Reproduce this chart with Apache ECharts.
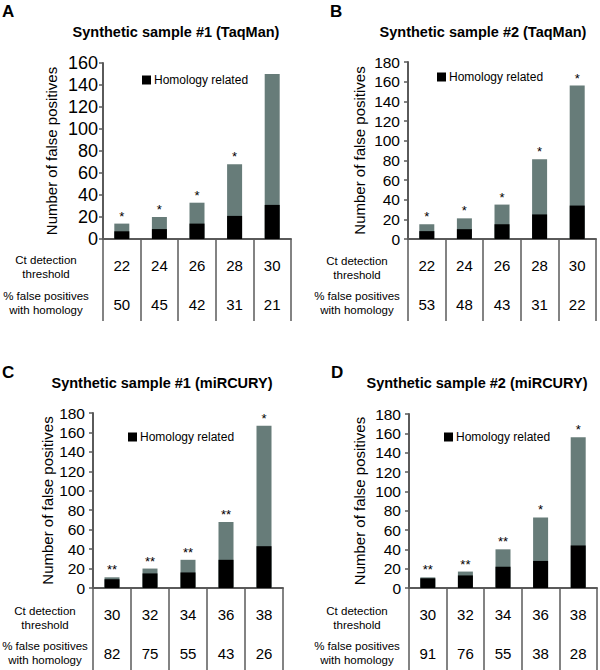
<!DOCTYPE html>
<html>
<head>
<meta charset="utf-8">
<script src="https://cdn.jsdelivr.net/npm/echarts@6/dist/echarts.min.js"></script>
<style>
html,body{margin:0;padding:0;background:#fff;}
#chart{width:600px;height:670px;}
</style>
</head>
<body>
<div id="chart"></div>
<script>
// ---- Data ----
const thresholdsA = ['22', '24', '26', '28', '30'];
const totalA = [14, 20, 33, 68, 150];
const homologyA = [7, 9, 14, 21, 31];
const pctA = [50, 45, 42, 31, 21];
const starsA = ['*', '*', '*', '*', ''];

const thresholdsB = ['22', '24', '26', '28', '30'];
const totalB = [15, 21, 35, 81, 156];
const homologyB = [8, 10, 15, 25, 34];
const pctB = [53, 48, 43, 31, 22];
const starsB = ['*', '*', '*', '*', '*'];

const thresholdsC = ['30', '32', '34', '36', '38'];
const totalC = [11, 20, 29, 68, 167];
const homologyC = [9, 15, 16, 29, 43];
const pctC = [82, 75, 55, 43, 26];
const starsC = ['**', '**', '**', '**', '*'];

const thresholdsD = ['30', '32', '34', '36', '38'];
const totalD = [11, 17, 40, 73, 156];
const homologyD = [10, 13, 22, 28, 44];
const pctD = [91, 76, 55, 38, 28];
const starsD = ['**', '**', '**', '*', '*'];

const yMaxA = 160, yMaxB = 180, yMaxC = 180, yMaxD = 180;
const yInterval = 20;

const titles = ['Synthetic sample #1 (TaqMan)', 'Synthetic sample #2 (TaqMan)',
                'Synthetic sample #1 (miRCURY)', 'Synthetic sample #2 (miRCURY)'];
const letters = ['A', 'B', 'C', 'D'];
const yName = 'Number of false positives';
const legendName = 'Homology related';
const rowLabel1 = 'Ct detection\nthreshold';
const rowLabel2 = '% false positives\nwith homology';

// ---- Layout ----
const FONT = '"Liberation Sans", Arial, sans-serif';
const AXIS = '#5a5a5a';
const GRAY = '#677c79';

const panels = [
  {th: thresholdsA, tot: totalA, hom: homologyA, pct: pctA, stars: starsA, max: yMaxA,
   grid: {left: 103, top: 63, width: 188, height: 176}, nameGap: 44, tickFont: 18, tickMargin: 5,
   legend: {left: 142, top: 74}, title: [176, 32], letter: [2, 12], rows: [46, 267, 302.5], tick: 82},
  {th: thresholdsB, tot: totalB, hom: homologyB, pct: pctB, stars: starsB, max: yMaxB,
   grid: {left: 408, top: 62, width: 188, height: 177}, nameGap: 41, tickFont: 15.5, tickMargin: 8,
   legend: {left: 437, top: 71}, title: [483, 32], letter: [330, 12], rows: [357, 267.5, 302.5], tick: 82},
  {th: thresholdsC, tot: totalC, hom: homologyC, pct: pctC, stars: starsC, max: yMaxC,
   grid: {left: 93, top: 413, width: 190, height: 175}, nameGap: 37, tickFont: 15.5, tickMargin: 8,
   legend: {left: 128, top: 431}, title: [162, 383], letter: [2, 373], rows: [45, 618, 652.5], tick: 82},
  {th: thresholdsD, tot: totalD, hom: homologyD, pct: pctD, stars: starsD, max: yMaxD,
   grid: {left: 409, top: 414, width: 188, height: 174}, nameGap: 42, tickFont: 15.5, tickMargin: 8,
   legend: {left: 444, top: 431}, title: [477, 383], letter: [331, 373], rows: [357, 618, 652.5], tick: 82}
];

const grid = [], xAxis = [], yAxis = [], series = [], legend = [], graphic = [];

panels.forEach((p, i) => {
  grid.push(Object.assign({containLabel: false}, p.grid));
  xAxis.push({
    type: 'category', gridIndex: i, data: p.th,
    axisLine: {show: true, lineStyle: {color: AXIS, width: 2}},
    axisTick: {show: true, interval: 0, length: p.tick, lineStyle: {color: AXIS, width: 1.5}},
    axisLabel: {
      interval: 0, margin: 7, color: '#000', fontFamily: FONT,
      formatter: (v, idx) => '{a|' + v + '}\n{b|' + p.pct[idx] + '}',
      rich: {
        a: {fontSize: 15, lineHeight: 39, fontFamily: FONT, color: '#000'},
        b: {fontSize: 15, lineHeight: 39, fontFamily: FONT, color: '#000'}
      }
    }
  });
  yAxis.push({
    type: 'value', gridIndex: i, min: 0, max: p.max, interval: yInterval,
    name: yName, nameLocation: 'middle', nameRotate: 90, nameGap: p.nameGap,
    nameTextStyle: {fontSize: 15, fontFamily: FONT, color: '#000'},
    axisLine: {show: true, lineStyle: {color: AXIS, width: 2}},
    axisTick: {show: true, length: 4, lineStyle: {color: AXIS, width: 1.5}},
    axisLabel: {fontSize: p.tickFont, fontFamily: FONT, color: '#000', margin: p.tickMargin},
    splitLine: {show: false}
  });
  series.push({
    type: 'bar', name: 'Total', xAxisIndex: i, yAxisIndex: i, data: p.tot,
    barWidth: 15, barGap: '-100%', itemStyle: {color: GRAY},
    label: {show: true, position: 'top', distance: 1, fontSize: 13, fontFamily: FONT,
            color: '#000', formatter: (prm) => p.stars[prm.dataIndex]},
    z: 2, animation: false
  });
  series.push({
    type: 'bar', name: legendName, xAxisIndex: i, yAxisIndex: i, data: p.hom,
    barWidth: 15, barGap: '-100%', itemStyle: {color: '#000'}, z: 3, animation: false
  });
  legend.push({
    data: [legendName], left: p.legend.left, top: p.legend.top, padding: 0,
    icon: 'rect', itemWidth: 9, itemHeight: 9, itemGap: 0, selectedMode: false,
    textStyle: {fontSize: 12, fontFamily: FONT, color: '#000', padding: [0, 0, 0, -2]}
  });
  graphic.push({
    type: 'text', left: p.letter[0], top: p.letter[1] - 9,
    style: {text: letters[i], font: 'bold 17px ' + FONT, fill: '#000'}
  });
  graphic.push({
    type: 'text', x: p.title[0], y: p.title[1],
    style: {text: titles[i], font: 'bold 14.5px ' + FONT, fill: '#000',
            textAlign: 'center', textVerticalAlign: 'middle'}
  });
  graphic.push({
    type: 'text', x: p.rows[0], y: p.rows[1],
    style: {text: rowLabel1, font: '11.5px ' + FONT, fill: '#000', lineHeight: 14,
            textAlign: 'center', textVerticalAlign: 'middle'}
  });
  graphic.push({
    type: 'text', x: p.rows[0], y: p.rows[2],
    style: {text: rowLabel2, font: '11.5px ' + FONT, fill: '#000', lineHeight: 14,
            textAlign: 'center', textVerticalAlign: 'middle'}
  });
});

const chart = echarts.init(document.getElementById('chart'), null, {renderer: 'svg', width: 600, height: 670});
chart.setOption({
  animation: false,
  backgroundColor: '#fff',
  grid, xAxis, yAxis, series, legend, graphic
});
</script>
</body>
</html>
